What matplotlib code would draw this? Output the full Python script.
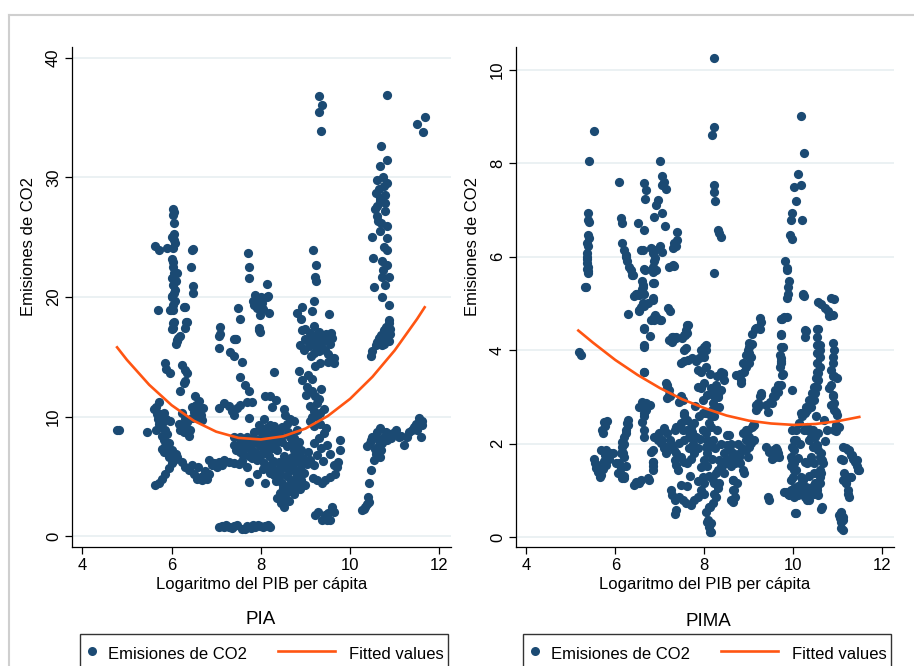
import numpy as np
import matplotlib
matplotlib.use("Agg")
import matplotlib.pyplot as plt
from matplotlib.lines import Line2D
from matplotlib.patches import Rectangle

plt.rcParams["font.family"] = ["Liberation Sans", "DejaVu Sans"]

# ---------------- data ----------------
# PIA panel: (log GDP per capita, CO2 emissions)
pia_outliers = [(9.31, 36.8), (9.37, 36.1), (9.31, 35.5), (9.34, 33.9), (10.82, 36.9),
                (11.50, 34.5), (11.67, 35.1), (11.64, 33.8)]

pia_col6 = [(6.04, 27.4), (6.05, 27.1), (6.04, 26.9), (6.05, 26.2), (6.05, 25.3), (6.06, 24.8),
            (6.04, 24.1), (6.03, 22.9), (6.03, 22.5), (6.05, 22.0), (6.02, 21.6), (6.04, 21.0),
            (6.05, 20.3), (6.02, 20.0), (6.04, 19.3), (6.03, 18.9), (6.05, 17.9), (6.04, 17.4),
            (5.64, 24.3), (5.73, 23.9), (5.90, 24.1), (6.46, 23.9), (6.44, 22.5), (6.48, 20.9),
            (6.48, 20.3), (6.29, 19.2), (5.69, 18.9), (5.96, 18.9), (6.12, 22.0), (6.35, 17.9),
            (6.20, 16.7), (5.99, 18.9), (6.03, 17.8), (6.02, 17.3), (6.12, 16.4), (6.33, 17.9),
            (6.31, 17.4), (6.31, 19.2), (6.47, 24.0), (6.08, 20.6), (6.10, 21.3), (6.00, 20.1),
            (6.07, 19.7), (6.01, 23.2), (6.08, 24.5), (6.02, 25.0)]

pia_col8 = [(7.71, 23.7), (7.74, 22.5), (7.74, 21.6), (7.48, 19.1), (7.53, 18.2), (7.09, 17.5),
            (7.07, 16.7), (7.44, 16.5), (7.88, 20.2), (7.95, 19.7), (7.82, 19.7), (8.03, 19.5),
            (7.92, 19.1), (7.99, 18.5), (8.13, 21.1), (8.16, 20.1), (8.19, 18.7), (7.95, 17.4),
            (7.99, 17.1), (7.96, 19.5), (8.14, 20.0), (7.97, 17.2), (7.43, 16.5), (7.09, 16.9),
            (7.06, 15.7), (7.32, 15.4), (7.39, 15.1), (7.58, 14.6), (7.40, 16.5), (7.54, 13.3),
            (7.65, 12.6), (7.73, 12.1), (8.29, 13.7), (7.90, 19.9), (8.00, 20.0), (8.05, 19.0),
            (7.85, 19.3)]

pia_col9 = [(9.16, 23.9), (9.23, 22.7), (9.22, 21.7), (9.23, 21.3), (9.19, 19.7), (8.93, 19.2),
            (8.81, 18.7), (9.15, 18.8), (9.53, 18.6), (8.90, 18.2), (8.93, 17.2), (9.20, 17.6),
            (8.96, 15.6), (9.07, 15.9), (9.18, 15.3), (9.29, 16.2), (9.39, 16.8), (9.51, 16.4),
            (9.58, 17.0), (9.31, 17.1), (9.10, 17.0), (8.98, 16.5), (9.43, 15.6), (9.05, 16.3),
            (9.15, 16.6), (9.25, 16.9), (9.35, 15.9), (9.45, 16.9), (9.55, 16.1), (9.20, 16.0),
            (9.40, 16.3), (9.00, 17.3), (9.60, 16.6), (9.12, 15.1), (9.30, 15.5), (9.50, 15.2),
            (8.88, 16.0), (9.63, 14.9), (9.51, 14.6), (9.63, 14.45), (9.22, 14.2), (9.33, 14.5),
            (9.28, 16.5), (9.10, 16.2)]

pia_col11 = [(10.70, 32.6), (10.83, 31.5), (10.67, 31.0), (10.61, 29.8), (10.74, 30.0), (10.82, 29.5),
             (10.57, 28.7), (10.68, 28.0), (10.66, 28.3), (10.79, 28.5), (10.55, 27.4), (10.79, 27.2),
             (10.60, 26.8), (10.62, 26.4), (10.70, 26.2), (10.82, 25.9), (10.50, 25.0), (10.83, 24.9),
             (10.82, 23.9), (10.51, 23.3), (10.72, 23.0), (10.82, 22.7), (10.74, 22.3), (10.72, 21.7),
             (10.86, 21.7), (10.53, 20.8), (10.72, 20.0), (10.87, 19.3), (10.87, 18.1), (10.80, 17.5),
             (10.75, 17.2), (10.85, 17.0), (10.70, 16.8), (10.65, 16.6), (10.80, 16.5), (10.90, 17.3),
             (10.60, 16.2), (10.72, 16.0), (10.88, 17.8), (10.46, 15.1), (10.50, 15.5), (10.57, 16.0),
             (10.68, 16.5), (10.79, 17.0), (10.87, 16.3), (10.76, 16.1), (10.90, 16.9), (10.78, 27.9),
             (10.65, 29.0), (10.76, 29.3), (10.60, 27.6), (10.68, 25.5), (10.76, 24.2), (10.78, 21.0)]

pia_main = [(4.77, 8.9), (4.82, 8.9), (5.46, 8.7), (5.65, 8.9),
            (5.65, 10.8), (5.60, 10.6), (5.71, 11.2), (5.82, 10.3), (5.75, 9.1), (5.85, 8.9),
            (5.82, 8.0), (5.86, 7.5), (5.82, 7.0), (5.94, 6.6), (5.88, 9.8), (5.97, 9.6),
            (5.64, 4.3), (5.71, 4.4), (5.79, 4.8), (5.86, 5.2), (5.94, 5.7), (6.00, 6.1), (6.05, 6.4),
            (5.86, 14.5), (5.88, 14.0), (5.97, 13.6), (6.12, 16.3), (6.09, 16.1), (6.14, 16.6),
            (6.24, 14.3), (6.30, 13.9), (6.35, 13.6), (6.31, 13.0), (6.27, 12.8), (6.20, 12.1),
            (6.24, 10.3), (6.30, 9.8), (6.27, 8.7), (6.30, 9.2), (6.46, 10.8), (6.53, 11.7),
            (6.55, 11.0), (6.65, 10.1), (6.68, 9.7), (6.60, 10.5), (6.42, 8.9), (6.45, 9.9),
            (6.12, 6.6), (6.24, 6.2), (6.31, 5.8), (6.38, 5.5), (6.50, 5.2), (6.57, 4.8), (6.68, 4.7),
            (6.80, 4.8), (6.83, 5.2), (6.60, 5.8), (6.71, 5.0), (6.45, 5.95),
            (6.83, 6.4), (6.94, 6.1), (7.06, 6.2), (7.17, 6.4), (7.28, 6.2), (7.39, 6.1), (7.50, 6.0),
            (7.57, 6.3), (7.02, 5.8), (7.13, 5.95),
            (7.06, 10.7), (7.17, 11.1), (7.28, 10.85), (7.36, 10.5), (7.47, 10.7), (7.54, 11.0),
            (7.69, 11.2), (7.80, 11.2), (7.39, 10.1), (7.73, 9.9),
            (7.39, 7.6), (7.54, 7.75), (7.69, 8.3), (7.84, 8.7), (7.95, 8.9), (8.06, 8.7), (8.16, 8.5),
            (7.84, 7.75), (7.99, 7.5), (8.14, 7.25), (7.54, 7.0), (7.73, 6.7), (7.92, 6.4), (8.06, 6.1),
            (8.21, 5.8), (8.36, 5.5), (7.69, 5.75), (7.73, 4.55), (7.92, 5.2), (8.10, 4.4), (8.06, 9.75),
            (8.21, 11.7), (8.10, 11.7), (8.33, 11.4), (8.24, 10.8), (7.39, 8.3), (7.54, 8.3),
            (8.36, 7.2), (8.51, 6.7), (8.58, 7.5), (8.66, 6.1), (8.74, 5.5), (8.58, 5.0), (8.48, 4.4),
            (8.44, 3.6), (8.36, 3.2), (8.51, 2.45), (8.54, 3.0), (8.66, 3.8), (8.74, 4.1), (8.84, 4.5),
            (8.91, 4.7), (8.81, 5.4), (8.90, 6.0), (8.74, 7.2), (8.66, 8.3), (8.59, 9.4), (8.55, 10.1),
            (8.66, 9.8), (8.74, 9.6), (8.53, 10.6), (8.81, 8.9), (8.85, 7.9), (8.91, 7.2),
            (8.96, 5.25), (9.04, 6.0), (9.11, 6.4), (9.18, 5.9), (9.16, 4.85), (9.26, 4.7), (9.37, 4.45),
            (9.44, 4.7), (9.55, 4.95), (9.66, 5.2), (9.70, 5.75), (9.73, 6.2), (9.63, 5.9), (9.77, 7.2),
            (9.77, 8.0), (9.55, 6.9), (9.48, 7.65), (9.41, 8.6), (9.33, 9.4), (9.26, 9.95), (9.18, 10.5),
            (9.26, 11.1), (9.22, 11.7), (9.14, 12.1), (9.04, 12.5), (8.93, 13.05), (8.85, 13.8),
            (9.02, 11.8), (9.10, 10.9), (9.14, 10.0), (9.33, 10.3), (9.41, 10.6),
            (9.21, 1.75), (9.29, 2.0), (9.37, 1.35), (9.44, 1.75), (9.55, 1.35), (9.63, 2.0), (9.60, 2.45),
            (9.51, 1.9), (9.48, 1.3),
            (7.06, 0.78), (7.17, 0.73), (7.28, 0.78), (7.39, 0.84), (7.47, 0.92), (7.65, 0.56), (7.77, 0.7),
            (7.88, 0.78), (7.99, 0.84), (8.10, 0.84), (8.21, 0.73), (7.35, 0.67), (7.58, 0.56), (7.12, 0.85),
            (7.22, 0.9), (7.70, 0.85), (7.82, 0.9), (7.94, 0.95), (8.05, 0.72), (8.15, 0.95),
            (10.27, 2.18), (10.34, 2.45), (10.42, 2.87), (10.41, 3.3), (10.42, 4.4), (10.46, 5.5),
            (10.53, 6.4), (10.38, 7.5), (10.46, 8.0), (10.57, 6.9), (10.64, 7.6), (10.30, 2.3), (10.38, 2.7),
            (10.50, 8.3), (10.61, 8.7), (10.68, 9.0), (10.76, 8.3), (10.83, 8.0), (10.72, 7.75), (10.87, 8.5),
            (11.02, 8.9), (11.09, 8.3), (11.21, 7.6), (11.28, 8.3), (11.39, 8.9), (11.47, 9.4), (11.54, 9.85),
            (11.62, 9.3), (11.58, 8.3), (11.50, 8.9), (11.32, 8.7), (10.55, 7.3), (10.45, 7.8), (10.62, 8.1),
            (10.80, 8.7), (10.95, 8.6), (10.92, 8.2), (11.15, 8.4), (11.42, 9.1), (11.60, 9.6), (10.70, 7.2),
            (10.66, 6.6),
            (7.62, 7.3), (7.78, 7.2), (7.88, 7.0), (8.02, 6.9), (8.18, 6.7), (8.28, 6.3), (8.00, 8.2),
            (7.92, 8.0), (8.20, 7.9), (8.30, 8.1), (8.12, 7.8), (7.80, 8.1), (7.65, 7.9), (8.40, 6.2),
            (8.45, 5.6), (8.55, 5.9), (8.62, 5.4), (8.70, 6.6), (8.78, 6.2), (8.48, 7.9), (8.60, 8.7),
            (8.75, 8.2), (8.82, 7.6), (8.40, 8.7), (8.30, 9.2), (8.20, 9.3), (8.48, 9.1), (8.68, 4.6),
            (8.62, 4.2), (8.40, 4.9), (8.30, 5.1), (8.20, 5.3), (8.55, 3.4), (8.62, 2.9), (8.45, 2.8),
            (8.50, 4.0), (8.78, 4.9), (8.90, 5.5), (9.00, 4.3), (8.88, 3.9), (8.75, 3.5),
            (5.75, 10.2), (5.80, 9.5), (5.70, 9.8), (5.90, 8.5), (5.95, 7.8), (5.78, 7.3), (6.00, 7.2),
            (6.10, 6.9), (6.16, 9.4), (6.20, 8.9), (6.35, 9.5), (6.50, 10.4), (6.58, 9.9), (6.40, 8.4),
            (6.70, 10.7), (6.62, 11.3),
            (9.20, 7.8), (9.30, 8.2), (9.35, 7.4), (9.25, 6.8), (9.40, 6.3), (9.45, 9.0), (9.20, 9.2),
            (9.10, 9.6), (9.30, 11.5), (9.35, 12.3), (9.15, 13.1), (9.05, 13.5),
            (7.45, 7.2), (7.60, 6.8), (7.80, 6.5), (7.98, 6.7), (8.10, 7.0), (8.25, 7.4), (8.35, 7.8),
            (8.45, 8.3), (8.15, 8.1), (7.70, 7.5), (8.05, 5.6), (8.25, 6.0), (8.35, 4.6), (8.58, 6.4),
            (8.70, 7.9), (8.85, 6.8), (8.95, 6.5), (9.05, 7.0), (8.28, 8.6), (8.12, 9.0), (7.95, 9.3),
            (8.42, 5.2), (8.88, 5.0), (5.78, 8.4), (5.72, 9.4), (5.68, 10.2), (5.92, 7.1), (6.65, 4.9),
            (6.75, 5.4), (6.90, 5.9)]

# quadratic fit
pia_fit_x = [4.78, 5.0, 5.5, 6.0, 6.5, 7.0, 7.5, 8.0, 8.5, 9.0, 9.5, 10.0, 10.5, 11.0, 11.5, 11.67]
pia_fit_y = [15.79, 14.74, 12.65, 10.95, 9.64, 8.73, 8.21, 8.08, 8.34, 8.99, 10.04, 11.48,
             13.32, 15.54, 18.16, 19.14]

# PIMA panel
pima_upper = [(8.21, 10.25), (8.21, 8.77), (8.17, 8.61), (8.21, 7.54), (8.21, 7.38), (8.23, 7.2),
              (8.30, 6.57), (8.37, 6.43), (8.34, 6.5), (8.22, 5.65), (5.52, 8.69), (5.42, 8.04),
              (6.09, 7.61), (10.16, 9.02), (10.23, 8.23), (10.11, 7.78), (10.17, 7.53), (10.02, 7.5),
              (10.06, 7.19), (10.20, 6.79), (9.98, 6.93), (9.95, 6.78), (9.93, 6.47), (9.96, 6.38),
              (9.82, 5.9), (9.85, 5.72), (9.91, 5.49), (9.88, 5.36), (9.85, 5.11), (10.22, 5.2),
              (10.24, 5.15), (9.80, 4.72), (9.72, 4.66), (9.72, 4.34), (10.29, 4.41), (10.55, 4.45),
              (9.85, 5.76), (9.87, 5.21), (10.22, 5.18), (9.75, 4.66), (9.86, 4.71)]

pima_col5 = [(5.38, 6.93), (5.39, 6.79), (5.41, 6.75), (5.39, 6.47), (5.40, 6.40), (5.38, 6.22),
             (5.37, 6.07), (5.36, 5.96), (5.37, 5.86), (5.38, 5.79), (5.36, 5.74), (5.39, 5.70),
             (5.35, 5.36), (5.37, 6.30), (5.36, 6.00), (5.38, 5.65), (5.33, 5.36), (5.19, 3.95),
             (5.22, 3.9)]

pima_col7 = [(6.13, 6.82), (6.14, 6.73), (6.16, 6.29), (6.19, 6.15), (6.23, 6.04), (6.26, 5.9),
             (6.31, 5.78), (6.35, 5.71), (6.40, 5.61), (6.24, 5.99), (6.38, 5.6),
             (6.50, 6.73), (6.64, 6.57), (6.65, 7.57), (6.68, 7.43), (6.67, 7.23), (6.58, 6.15),
             (6.65, 5.73), (6.60, 5.47), (6.62, 5.36), (6.64, 5.21), (6.46, 5.20), (6.43, 5.15),
             (6.28, 4.78), (6.54, 4.83), (6.65, 4.95), (6.73, 5.0), (6.64, 4.45), (6.78, 4.30),
             (7.0, 8.04), (7.04, 7.72), (7.09, 7.6), (7.06, 7.54), (7.15, 7.44), (6.97, 7.22),
             (6.91, 7.11), (7.06, 6.93), (6.88, 6.84), (7.12, 6.66), (6.80, 6.18), (6.85, 6.07),
             (6.87, 5.9), (6.84, 5.79), (6.84, 5.68), (7.01, 6.22), (7.06, 6.11), (7.29, 6.18),
             (7.32, 6.29), (7.39, 6.52), (7.39, 6.36), (7.21, 5.79), (7.31, 5.81), (6.86, 5.43),
             (6.84, 5.11), (7.18, 4.9), (7.22, 4.83), (6.89, 4.76), (6.88, 4.65), (7.03, 4.65),
             (7.29, 4.29), (7.63, 4.54), (7.60, 4.36), (7.50, 4.25),
             (6.54, 5.18), (6.49, 5.2), (6.59, 5.31), (6.62, 5.39), (6.54, 4.86), (6.58, 4.93),
             (6.63, 5.0), (6.80, 4.65), (6.87, 4.71), (6.93, 4.68), (7.0, 4.65), (6.65, 4.47),
             (6.64, 4.07), (6.64, 3.54), (6.84, 5.43), (6.85, 5.08), (6.91, 5.72), (6.90, 5.97),
             (6.86, 6.14), (6.62, 6.14), (6.66, 5.72), (7.62, 4.54), (7.56, 4.32), (7.36, 4.29),
             (7.30, 4.22), (7.27, 4.18), (7.59, 4.04), (7.36, 6.22), (7.29, 5.82), (7.14, 3.29),
             (7.17, 3.22), (7.21, 3.04), (7.44, 2.9), (7.55, 2.61),
             (9.24, 4.68), (9.28, 4.6), (9.16, 4.47), (9.13, 4.45), (9.24, 4.45), (9.06, 4.34),
             (9.22, 4.5), (9.18, 4.47)]

pima_main = [(5.53, 1.68), (5.55, 1.59), (5.57, 1.48), (5.68, 1.33), (5.72, 1.45), (5.75, 1.63),
             (5.79, 1.54), (5.77, 1.76), (5.85, 1.68), (5.88, 1.8), (5.71, 2.29), (5.76, 2.37),
             (5.82, 2.48), (5.68, 1.86), (5.62, 1.40), (5.65, 1.28), (5.60, 1.55),
             (5.75, 2.47), (5.73, 2.22), (5.79, 1.86), (5.94, 1.79), (6.02, 1.58), (6.05, 1.36),
             (6.20, 1.26), (6.27, 2.43), (6.24, 2.22), (6.20, 2.0), (6.17, 1.79), (6.13, 1.5),
             (6.09, 1.58), (6.13, 1.48), (6.16, 1.26), (6.19, 1.3), (6.23, 1.51), (6.19, 1.72),
             (6.16, 1.93), (6.20, 2.15), (6.23, 2.29), (6.28, 2.5), (6.28, 2.4), (6.16, 2.04), (6.13, 1.8),
             (6.43, 1.11), (6.50, 1.15), (6.58, 1.22), (6.76, 1.22), (6.46, 1.18), (6.54, 1.15), (6.73, 1.26),
             (6.54, 2.79), (6.61, 2.9), (6.68, 2.86), (6.79, 2.82), (6.64, 2.65), (6.61, 2.47),
             (6.64, 2.29), (6.65, 2.15), (6.68, 2.72), (6.84, 1.51), (6.84, 1.61), (6.81, 1.83),
             (6.65, 3.54), (6.64, 4.11), (6.65, 2.58), (6.84, 1.86), (6.85, 1.61), (6.84, 1.43),
             (6.95, 2.18), (7.06, 2.08), (7.13, 1.93), (7.36, 2.36), (7.58, 2.5),
             (6.88, 2.15), (6.95, 2.08), (7.03, 2.01), (7.10, 1.9), (7.13, 1.8), (6.99, 2.22),
             (7.10, 2.33), (7.17, 2.22), (7.24, 2.08), (7.28, 1.97), (7.31, 1.86), (7.21, 3.15),
             (7.17, 3.25), (7.24, 3.01), (7.17, 2.98), (7.21, 4.22), (7.28, 4.29), (7.36, 4.25),
             (7.54, 4.32), (7.58, 4.43), (7.55, 4.0),
             (7.48, 3.72), (7.55, 3.76), (7.63, 3.79), (7.72, 3.83), (7.81, 3.76), (7.88, 3.83),
             (7.96, 3.93), (8.0, 4.07), (8.03, 4.11), (7.93, 4.0), (7.85, 3.58), (7.93, 3.54),
             (7.85, 3.22), (7.93, 3.19), (7.51, 2.93), (7.48, 3.01),
             (7.55, 2.65), (7.62, 2.5), (7.48, 2.43), (7.40, 2.36), (7.33, 2.29), (7.51, 2.29),
             (7.62, 2.29), (7.70, 2.36), (7.77, 2.43), (7.66, 2.15), (7.55, 2.08), (7.44, 2.01),
             (7.36, 1.8), (7.33, 1.65), (7.36, 1.54), (7.40, 1.44), (7.48, 1.72), (7.55, 1.61),
             (7.62, 1.58), (7.70, 1.68), (7.77, 1.8), (7.85, 1.9), (7.74, 2.0), (7.81, 2.15),
             (7.25, 1.0), (7.28, 0.9), (7.33, 0.79), (7.36, 0.58), (7.33, 0.5), (7.44, 0.86),
             (7.51, 0.79), (7.58, 0.72), (7.70, 0.68), (7.77, 0.79), (7.85, 0.86), (7.92, 1.0),
             (7.96, 1.29), (8.0, 1.15), (7.48, 1.11),
             (8.04, 2.22), (8.07, 2.08), (7.96, 2.29), (8.11, 2.43), (8.15, 2.58), (8.18, 2.72),
             (8.11, 1.93), (8.07, 1.8), (8.0, 1.65), (8.07, 1.51), (8.18, 1.68), (8.19, 2.86),
             (8.22, 3.01), (8.15, 3.19), (8.26, 3.26), (8.29, 3.44), (8.37, 3.54), (8.43, 3.51),
             (8.30, 3.04), (8.37, 3.15), (8.07, 3.04), (8.04, 2.65),
             (8.04, 0.54), (8.11, 0.65), (8.07, 0.33), (8.11, 0.22), (8.15, 0.29), (8.13, 0.1),
             (8.19, 0.72), (8.26, 0.86), (8.30, 1.04), (8.22, 1.15), (8.34, 1.15), (8.0, 0.93),
             (8.30, 1.43), (8.37, 1.51), (8.48, 1.58), (8.56, 1.68), (8.67, 1.76), (8.78, 1.72),
             (8.70, 1.58), (8.59, 1.51), (8.45, 1.36), (8.52, 1.97), (8.56, 2.18), (8.81, 1.58),
             (8.90, 1.36), (8.64, 1.22), (8.67, 1.0), (8.64, 0.76), (8.70, 0.86), (8.74, 1.15),
             (8.82, 3.36), (8.75, 3.47), (8.90, 3.54), (8.93, 3.65), (9.0, 3.72), (9.04, 3.86),
             (9.0, 4.07), (9.07, 4.14), (8.97, 2.29), (9.0, 2.15), (9.04, 2.01), (9.11, 2.08),
             (9.07, 2.36), (9.12, 2.4), (8.93, 1.86), (8.97, 1.72),
             (9.16, 2.83), (9.24, 3.01), (9.20, 2.79), (9.28, 3.04), (9.42, 2.68), (9.38, 2.83),
             (9.48, 2.9), (9.55, 3.01), (9.58, 3.15), (9.66, 3.26), (9.76, 3.5), (9.72, 3.72),
             (9.72, 3.83), (9.76, 4.07), (9.72, 4.32),
             (9.39, 1.93), (9.46, 1.83), (9.52, 1.68), (9.55, 1.86), (9.62, 1.9), (9.58, 1.72),
             (9.66, 1.79), (9.42, 0.86), (9.46, 0.79), (9.64, 1.86), (9.67, 1.72),
             (9.97, 3.15), (9.80, 0.97), (9.87, 0.93), (9.95, 1.0), (10.02, 0.86), (10.04, 0.51),
             (10.09, 0.93), (10.16, 1.0), (10.19, 1.18), (10.16, 1.29), (10.31, 0.79), (10.24, 0.93),
             (10.27, 0.86),
             (9.95, 1.51), (10.02, 1.58), (10.06, 1.43), (9.99, 1.29), (9.98, 1.93), (10.02, 2.08),
             (10.06, 2.29), (10.13, 2.43), (10.20, 2.58), (10.16, 2.65), (9.95, 1.72),
             (10.24, 2.29), (10.31, 2.36), (10.39, 2.29), (10.46, 2.22), (10.49, 2.15), (10.35, 2.08),
             (10.43, 1.93), (10.53, 1.97), (10.56, 1.86), (10.60, 1.72), (10.64, 1.65), (10.39, 1.72),
             (10.31, 1.58), (10.46, 1.58), (10.46, 1.36), (10.49, 1.15), (10.53, 1.0), (10.56, 0.9),
             (10.42, 1.07), (10.6, 1.15), (10.6, 1.29), (10.6, 1.43), (10.62, 0.61),
             (10.25, 2.65), (10.31, 2.72), (10.39, 2.79), (10.46, 2.93), (10.49, 3.08), (10.53, 3.22),
             (10.56, 3.36), (10.56, 3.51), (10.60, 3.65), (10.60, 3.86), (10.60, 4.0), (10.60, 4.11),
             (10.53, 4.29), (10.49, 3.18),
             (10.88, 4.15), (10.92, 4.0), (10.88, 3.86), (10.88, 3.72), (10.85, 3.58), (10.88, 3.44),
             (10.99, 3.4), (10.81, 3.18), (10.88, 3.01), (10.85, 2.83), (10.92, 2.72), (10.99, 2.61),
             (10.96, 2.4), (10.92, 2.29), (11.03, 2.36),
             (11.07, 1.68), (11.11, 1.22), (11.18, 1.15), (11.22, 1.0), (11.25, 0.86), (11.14, 1.36),
             (11.07, 0.54), (11.11, 0.43), (11.07, 0.33), (11.11, 0.15), (11.03, 0.47),
             (11.11, 1.93), (11.18, 1.9), (11.25, 1.86), (11.32, 1.76), (11.35, 1.68), (11.39, 1.61),
             (11.43, 1.51), (11.46, 1.43), (11.43, 1.65), (11.28, 1.29),
             (10.55, 5.04), (10.62, 4.98), (10.70, 4.91), (10.77, 4.84), (10.81, 4.74), (10.88, 4.76),
             (10.92, 5.09), (10.85, 5.12), (10.53, 4.45), (10.27, 4.43), (10.26, 4.29),
             (9.72, 4.07), (9.70, 3.9), (9.72, 3.76), (9.70, 3.65), (9.75, 3.47), (9.72, 3.26),
             (9.65, 3.11), (9.58, 3.01), (9.52, 2.87), (9.27, 3.08), (9.20, 2.86), (9.15, 2.72),
             (9.01, 4.15), (8.97, 4.0), (8.94, 3.9), (8.87, 3.72), (8.79, 3.5), (8.72, 3.47),
             (8.83, 3.29), (9.01, 3.93),
             (10.21, 2.65), (10.28, 2.79), (10.34, 2.93), (10.41, 3.08), (10.47, 3.22), (10.50, 3.4),
             (10.54, 3.54), (10.54, 3.72), (10.54, 3.93), (10.53, 4.1), (10.92, 3.44), (10.85, 3.25),
             (10.88, 3.04), (10.92, 2.86), (10.95, 2.68), (10.96, 2.36), (10.96, 2.26),
             (9.98, 2.29), (10.05, 2.08), (10.02, 1.86), (9.98, 1.65), (10.02, 1.43), (9.95, 1.22),
             (10.02, 1.04), (9.84, 0.97), (9.90, 0.9), (10.11, 0.9), (10.25, 0.93), (10.36, 0.79),
             (10.06, 0.51), (10.21, 1.22), (10.28, 1.07), (10.47, 0.93), (10.54, 1.07), (10.62, 1.36),
             (10.66, 1.58), (10.62, 1.79), (10.51, 1.97), (10.40, 2.15), (10.30, 2.29), (10.44, 2.29),
             (10.55, 2.22), (10.64, 0.65),
             (11.22, 1.86), (11.29, 1.76), (11.40, 1.65), (11.48, 1.43), (11.11, 1.65), (11.29, 1.29),
             (11.18, 1.15), (11.22, 0.93), (11.07, 0.51), (11.11, 0.37), (11.07, 0.19), (11.04, 0.4),
             (8.86, 2.22), (8.94, 2.08), (9.01, 1.93), (9.08, 2.08), (8.79, 1.79), (8.72, 1.72),
             (8.65, 1.79), (8.57, 1.86), (8.52, 2.18), (8.48, 1.65), (8.40, 1.51), (8.86, 1.43),
             (8.65, 1.22), (8.65, 1.01), (8.60, 0.79), (8.19, 1.22), (8.12, 0.65), (8.08, 0.37),
             (8.15, 0.11), (8.22, 0.93), (8.26, 1.36), (8.33, 1.65), (8.94, 2.29), (9.09, 2.4),
             (8.04, 4.0), (8.0, 3.86), (8.04, 3.65), (8.12, 3.5), (8.0, 3.29), (8.19, 3.15),
             (8.30, 3.0), (8.34, 2.79), (8.22, 2.58), (8.15, 2.36), (8.19, 2.08), (8.04, 1.93),
             (8.41, 3.5), (8.45, 3.36), (8.33, 3.15), (7.97, 2.93), (7.97, 2.65),
             (7.65, 1.9), (7.72, 2.25), (7.90, 2.1), (7.92, 1.5), (7.88, 2.6), (7.80, 2.8),
             (8.10, 1.3), (8.25, 1.9), (8.28, 2.3), (8.38, 2.0), (8.45, 1.8), (8.60, 2.0),
             (8.75, 2.0), (8.85, 1.9), (7.68, 1.3), (7.60, 1.1), (7.85, 1.2), (10.10, 1.7),
             (10.15, 2.0), (10.35, 1.3), (10.25, 1.6), (10.40, 0.95), (10.50, 2.6), (10.10, 1.1),
             (10.70, 2.05), (10.75, 2.3), (10.68, 2.5)]

pima_fit_x = [5.17, 5.5, 6.0, 6.5, 7.0, 7.5, 8.0, 8.5, 9.0, 9.5, 10.0, 10.5, 11.0, 11.48]
pima_fit_y = [4.42, 4.16, 3.79, 3.47, 3.19, 2.95, 2.76, 2.60, 2.49, 2.43, 2.40, 2.42, 2.48, 2.57]

x_ticks = [4, 6, 8, 10, 12]
pia_yticks = [0, 10, 20, 30, 40]
pima_yticks = [0, 2, 4, 6, 8, 10]

# ---------------- style ----------------
NAVY = "#1b4a73"
ORANGE = "#ff5512"
GRID = "#e9f0f2"
W, H = 914, 666

fig = plt.figure(figsize=(W / 100, H / 100), dpi=100)
fig.patch.set_facecolor("white")

# outer light frame (top and left edges visible)
fig.add_artist(Line2D([9 / W, 1.0], [1 - 15 / H, 1 - 15 / H], transform=fig.transFigure,
                      color="#cfcfcf", lw=1.5))
fig.add_artist(Line2D([9 / W, 9 / W], [0.0, 1 - 15 / H], transform=fig.transFigure,
                      color="#cfcfcf", lw=1.5))


def make_panel(rect, points, fit_x, fit_y, yticks, ylim, title, title_xy, legend_x0):
    ax = fig.add_axes(rect)
    pts = np.array(points)
    ax.scatter(pts[:, 0], pts[:, 1], s=44, color=NAVY, linewidths=0, zorder=3)
    ax.plot(fit_x, fit_y, color=ORANGE, lw=1.9, zorder=4)

    ax.set_xlim(3.77, 12.26)
    ax.set_ylim(*ylim)
    ax.set_xticks(x_ticks)
    ax.set_yticks(yticks)
    ax.yaxis.grid(True, color=GRID, lw=1.3)
    ax.set_axisbelow(True)
    for side in ("top", "right"):
        ax.spines[side].set_visible(False)
    for side in ("left", "bottom"):
        ax.spines[side].set_color("black")
        ax.spines[side].set_linewidth(0.9)
    ax.tick_params(length=5, width=0.9, color="black", labelsize=12)
    ax.tick_params(axis="x", pad=3)
    ax.tick_params(axis="y", pad=3)
    for lab in ax.get_yticklabels():
        lab.set_rotation(90)
        lab.set_va("center")

    ax.set_xlabel("Logaritmo del PIB per cápita", fontsize=12, va="center")
    ax.xaxis.set_label_coords(0.5, -0.074)
    ax.set_ylabel("Emisiones de CO2", fontsize=12, va="center")
    ax.yaxis.set_label_coords(-0.116, 0.6)

    fig.text(title_xy[0] / W, 1 - title_xy[1] / H, title, ha="center", va="center", fontsize=13.5)

    # Stata-style legend box below the panel
    ytop = 1 - 634 / H
    fig.add_artist(Rectangle((legend_x0 / W, -0.02), 368 / W, ytop + 0.02,
                             transform=fig.transFigure, fill=False, edgecolor="#333333", lw=1))
    ym = 1 - 651 / H
    yb = 1 - 659 / H
    fig.add_artist(Line2D([(legend_x0 + 12) / W], [ym], transform=fig.transFigure,
                          marker="o", markersize=6.5, color=NAVY, markeredgewidth=0, linestyle="none"))
    fig.text((legend_x0 + 28) / W, yb, "Emisiones de CO2", fontsize=12, va="baseline")
    fig.add_artist(Line2D([(legend_x0 + 198) / W, (legend_x0 + 255) / W], [ym, ym],
                          transform=fig.transFigure, color=ORANGE, lw=1.9))
    fig.text((legend_x0 + 269) / W, yb, "Fitted values", fontsize=12, va="baseline")
    return ax


ax1 = make_panel([72 / W, 1 - 547 / H, 379 / W, 500 / H],
                 pia_outliers + pia_col6 + pia_col8 + pia_col9 + pia_col11 + pia_main,
                 pia_fit_x, pia_fit_y, pia_yticks, (-0.92, 40.92), "PIA", (261, 619), 80)
ax2 = make_panel([516 / W, 1 - 547 / H, 378 / W, 500 / H],
                 pima_upper + pima_col5 + pima_col7 + pima_main,
                 pima_fit_x, pima_fit_y, pima_yticks, (-0.214, 10.49), "PIMA", (708, 621), 523)

fig.savefig("out.png", dpi=100, facecolor="white")
